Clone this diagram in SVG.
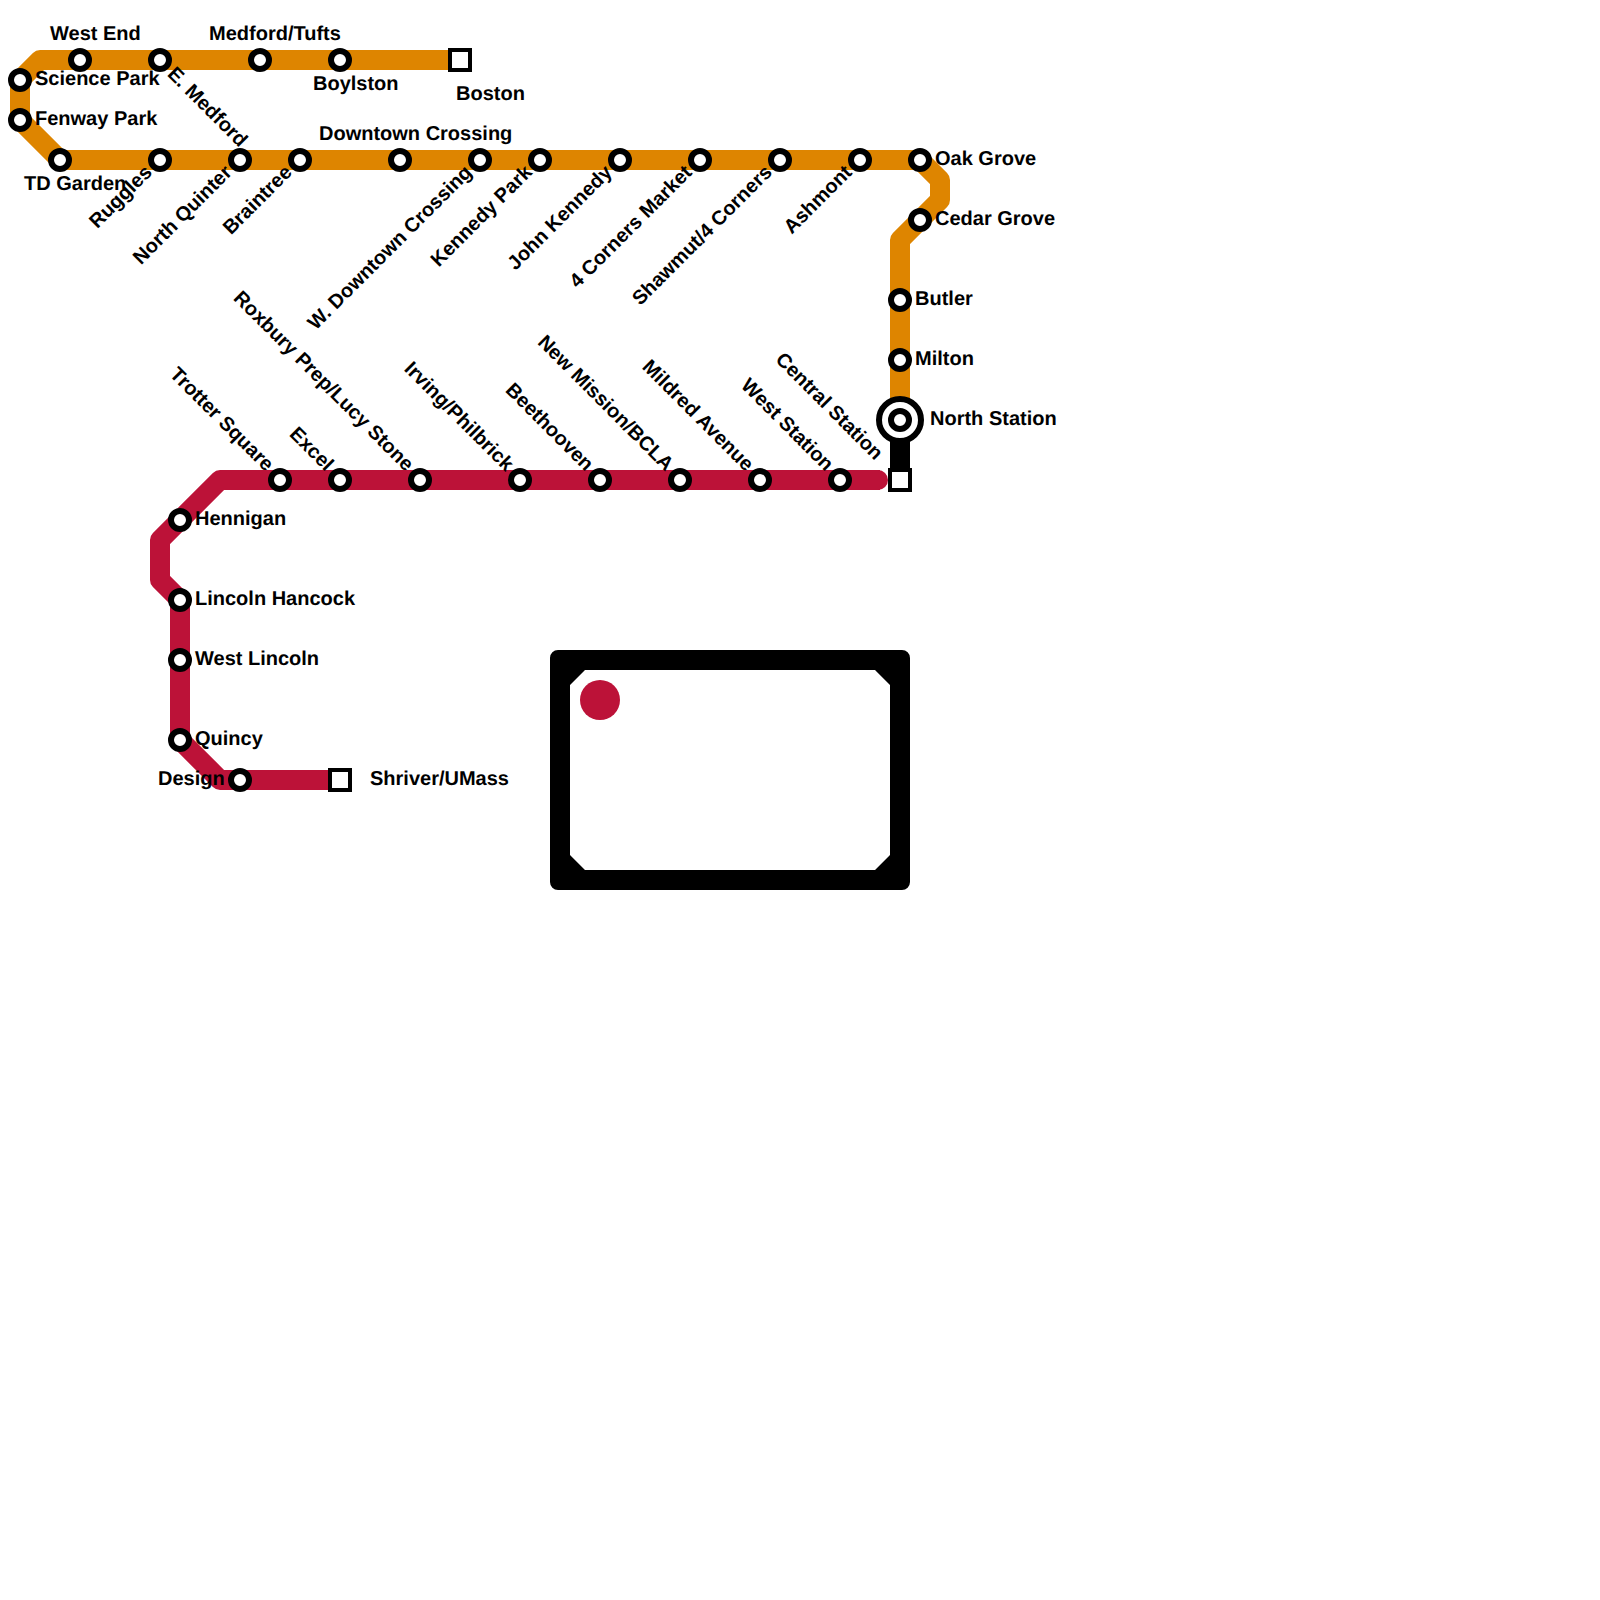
<svg xmlns="http://www.w3.org/2000/svg" width="1600" height="1600" viewBox="0 0 1600 1600">
<style>
.line{fill:none;stroke-width:20;stroke-linejoin:round;stroke-linecap:round}
.st{fill:#fff;stroke:#000;stroke-width:6}
.term{fill:#fff;stroke:#000;stroke-width:4}
text{font-family:"Liberation Sans",Arial,sans-serif;font-size:20px;font-weight:700;fill:#000;text-rendering:geometricPrecision}
.e{text-anchor:end}
</style>
<rect width="1600" height="1600" fill="#fff"/>
<g id="connectors">
<path class="line" stroke="#000" d="M900 420V480"/>
<path class="line" stroke="#de8500" style="stroke-linecap:butt" d="M460 60H40L20 80V120L60 160H920L940 180V200L900 240V420"/>
<path class="line" stroke="#bc1238" style="stroke-linecap:butt" d="M340 780H220L180 740V600L160 580V540L220 480H880"/>
<path fill="#bc1238" d="M878 470a10 10 0 0 1 0 20z"/>
</g>
<g id="legend">
<path fill="#000" fill-rule="evenodd" d="M558 650H902a8 8 0 0 1 8 8V882a8 8 0 0 1-8 8H558a8 8 0 0 1-8-8V658a8 8 0 0 1 8-8zM585 670L570 685V855L585 870H875L890 855V685L875 670z"/>
<circle cx="600" cy="700" r="20" fill="#bc1238"/>
</g>
<g id="west-end"><circle class="st" cx="80" cy="60" r="9"/><text x="50" y="40">West End</text></g>
<g id="e-medford"><circle class="st" cx="160" cy="60" r="9"/><text class="e" transform="translate(239.5 148) rotate(45)">E. Medford</text></g>
<g id="medford-tufts"><circle class="st" cx="260" cy="60" r="9"/><text x="209" y="40">Medford/Tufts</text></g>
<g id="boylston"><circle class="st" cx="340" cy="60" r="9"/><text x="313" y="90">Boylston</text></g>
<g id="boston"><rect class="term" x="450" y="50" width="20" height="20"/><text x="456" y="99.5">Boston</text></g>
<g id="science-park"><circle class="st" cx="20" cy="80" r="9"/><text x="35" y="85">Science Park</text></g>
<g id="fenway-park"><circle class="st" cx="20" cy="120" r="9"/><text x="35" y="125">Fenway Park</text></g>
<g id="td-garden"><circle class="st" cx="60" cy="160" r="9"/><text x="24" y="190">TD Garden</text></g>
<g id="ruggles"><circle class="st" cx="160" cy="160" r="9"/><text class="e" transform="translate(153 173.5) rotate(-45)">Ruggles</text></g>
<g id="north-quinter"><circle class="st" cx="240" cy="160" r="9"/><text class="e" transform="translate(233 173.5) rotate(-45)">North Quinter</text></g>
<g id="braintree"><circle class="st" cx="300" cy="160" r="9"/><text class="e" transform="translate(293 173.5) rotate(-45)">Braintree</text></g>
<g id="downtown-crossing"><circle class="st" cx="400" cy="160" r="9"/><text x="319" y="140">Downtown Crossing</text></g>
<g id="w-downtown-crossing"><circle class="st" cx="480" cy="160" r="9"/><text class="e" transform="translate(473 173.5) rotate(-45)">W. Downtown Crossing</text></g>
<g id="kennedy-park"><circle class="st" cx="540" cy="160" r="9"/><text class="e" transform="translate(533 173.5) rotate(-45)">Kennedy Park</text></g>
<g id="john-kennedy"><circle class="st" cx="620" cy="160" r="9"/><text class="e" transform="translate(613 173.5) rotate(-45)">John Kennedy</text></g>
<g id="four-corners-market"><circle class="st" cx="700" cy="160" r="9"/><text class="e" transform="translate(693 173.5) rotate(-45)">4 Corners Market</text></g>
<g id="shawmut-4-corners"><circle class="st" cx="780" cy="160" r="9"/><text class="e" transform="translate(773 173.5) rotate(-45)">Shawmut/4 Corners</text></g>
<g id="ashmont"><circle class="st" cx="860" cy="160" r="9"/><text class="e" transform="translate(853 173.5) rotate(-45)">Ashmont</text></g>
<g id="oak-grove"><circle class="st" cx="920" cy="160" r="9"/><text x="935" y="165">Oak Grove</text></g>
<g id="cedar-grove"><circle class="st" cx="920" cy="220" r="9"/><text x="935" y="225">Cedar Grove</text></g>
<g id="butler"><circle class="st" cx="900" cy="300" r="9"/><text x="915" y="305">Butler</text></g>
<g id="milton"><circle class="st" cx="900" cy="360" r="9"/><text x="915" y="365">Milton</text></g>
<g id="north-station"><circle class="st" cx="900" cy="420" r="21"/><circle class="st" cx="900" cy="420" r="9"/><text x="930" y="425">North Station</text></g>
<g id="central-station"><rect class="term" x="890" y="470" width="20" height="20"/><text class="e" transform="translate(875 461) rotate(45)">Central Station</text></g>
<g id="west-station"><circle class="st" cx="840" cy="480" r="9"/><text class="e" transform="translate(825.5 472) rotate(45)">West Station</text></g>
<g id="mildred-avenue"><circle class="st" cx="760" cy="480" r="9"/><text class="e" transform="translate(745.5 472) rotate(45)">Mildred Avenue</text></g>
<g id="new-mission-bcla"><circle class="st" cx="680" cy="480" r="9"/><text class="e" transform="translate(665.5 472) rotate(45)">New Mission/BCLA</text></g>
<g id="beethooven"><circle class="st" cx="600" cy="480" r="9"/><text class="e" transform="translate(585.5 472) rotate(45)">Beethooven</text></g>
<g id="irving-philbrick"><circle class="st" cx="520" cy="480" r="9"/><text class="e" transform="translate(505.5 472) rotate(45)">Irving/Philbrick</text></g>
<g id="roxbury-prep"><circle class="st" cx="420" cy="480" r="9"/><text class="e" transform="translate(405.5 472) rotate(45)">Roxbury Prep/Lucy Stone</text></g>
<g id="excel"><circle class="st" cx="340" cy="480" r="9"/><text class="e" transform="translate(325.5 472) rotate(45)">Excel</text></g>
<g id="trotter-square"><circle class="st" cx="280" cy="480" r="9"/><text class="e" transform="translate(265.5 472) rotate(45)">Trotter Square</text></g>
<g id="hennigan"><circle class="st" cx="180" cy="520" r="9"/><text x="195" y="525">Hennigan</text></g>
<g id="lincoln-hancock"><circle class="st" cx="180" cy="600" r="9"/><text x="195" y="605">Lincoln Hancock</text></g>
<g id="west-lincoln"><circle class="st" cx="180" cy="660" r="9"/><text x="195" y="665">West Lincoln</text></g>
<g id="quincy"><circle class="st" cx="180" cy="740" r="9"/><text x="195" y="745">Quincy</text></g>
<g id="design"><circle class="st" cx="240" cy="780" r="9"/><text x="158" y="785">Design</text></g>
<g id="shriver-umass"><rect class="term" x="330" y="770" width="20" height="20"/><text x="370" y="785">Shriver/UMass</text></g>
</svg>
